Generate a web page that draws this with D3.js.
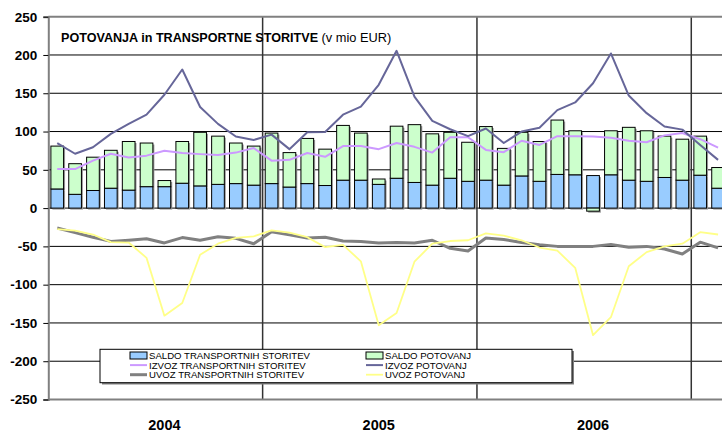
<!DOCTYPE html>
<html>
<head>
<meta charset="utf-8">
<script src="https://cdn.jsdelivr.net/npm/d3@7"></script>
<style>
body { margin: 0; background: #fff; }
svg { display: block; font-family: "Liberation Sans", Arial, sans-serif; }
</style>
</head>
<body>
<svg id="chart" width="722" height="432"></svg>
<script>
var categories = ["jan04","feb04","mar04","apr04","maj04","jun04","jul04","avg04","sep04","okt04","nov04","dec04",
    "jan05","feb05","mar05","apr05","maj05","jun05","jul05","avg05","sep05","okt05","nov05","dec05",
    "jan06","feb06","mar06","apr06","maj06","jun06","jul06","avg06","sep06","okt06","nov06","dec06",
    "jan07","feb07"];
var yearLabels = ["2004", "2005", "2006"];
var yTicks = [-250, -200, -150, -100, -50, 0, 50, 100, 150, 200, 250];

var saldoTransport = [25,18,23,26,23.5,28,28,32.5,29,31,32,30,
    32,27.5,32,29.5,36.5,36.5,31,39,33.5,30,39,35,
    36.5,30,42,35,44,43.5,42.5,43.5,36.5,35,40,36.5,
    43,26];
var saldoPotovanj = [56,40,43.5,49.5,63.5,57,8,54.5,70,63,53,51,
    66,45,59,47.5,71.5,61.5,7,68,75.5,67,60,51,
    70,48,57,52,71,57.5,-4,57.5,69,66,54,53.5,
    51,27];
var izvozTransport = [51,51,62,71,66,68.5,75,72,70.5,69.5,72.5,78.5,
    62,63,72,67,81,81,77,85,80,72.5,92.5,92.5,
    76,73,88,82.5,94,94,93.5,92,88,86,95,98,
    90,79];
var izvozPotovanj = [85,71,79.5,97,110,122,148,181,132,110,93.5,89,
    96,77,99,99.5,122,132.5,161,205.5,145.5,114,103,94,
    104,85,100,105,128,138,163,202,147,124,106.5,102.5,
    82.5,63];
var uvozTransport = [-26,-32,-38,-43.5,-42,-40,-45.5,-38.5,-42,-37.5,-39.5,-46.5,
    -31,-35,-39,-38,-43,-43.5,-45.5,-45,-45.5,-42,-52.5,-56,
    -39,-41,-45,-48,-50,-50,-50,-47.5,-51,-50,-53.5,-60,
    -44.5,-52];
var uvozPotovanj = [-27.5,-29.5,-34.5,-44.5,-45,-65,-140.5,-124,-61,-46.5,-39,-37,
    -29,-32,-38,-51,-48,-69.5,-153,-137,-70,-46.5,-43,-42,
    -33,-36,-42,-51.5,-55.5,-78,-166,-142.5,-76,-57.5,-50,-46.5,
    -31.5,-34.5];

var svg = d3.select("#chart");
var plotLeft = 48.3, plotRight = 727, plotTop = 16.7, plotBottom = 399.5;

var x = d3.scaleBand().domain(categories).range([plotLeft, plotRight]).paddingInner(0.29).paddingOuter(0.145);
var y = d3.scaleLinear().domain([-250, 250]).range([plotBottom, plotTop]);
var step = x.step();

// gridlines
svg.append("g").selectAll("line").data(yTicks.filter(function(d) { return d > -250 && d < 250; }))
    .enter().append("line")
    .attr("x1", plotLeft).attr("x2", 722)
    .attr("y1", function(d) { return y(d); }).attr("y2", function(d) { return y(d); })
    .attr("stroke", "#000").attr("stroke-width", 1);

// year separators
svg.append("g").selectAll("line").data([12, 24, 36]).enter().append("line")
    .attr("x1", function(d) { return plotLeft + d * step; })
    .attr("x2", function(d) { return plotLeft + d * step; })
    .attr("y1", plotTop).attr("y2", plotBottom)
    .attr("stroke", "#333").attr("stroke-width", 1.5);

// plot border
svg.append("line").attr("x1", plotLeft).attr("x2", 722).attr("y1", plotTop).attr("y2", plotTop).attr("stroke", "#808080").attr("stroke-width", 2);
svg.append("line").attr("x1", plotLeft).attr("x2", 722).attr("y1", plotBottom).attr("y2", plotBottom).attr("stroke", "#808080").attr("stroke-width", 2);

// y axis
var yAxis = svg.append("g").attr("transform", "translate(" + plotLeft + ",0)")
    .call(d3.axisLeft(y).tickValues(yTicks).tickSize(5).tickPadding(6).tickFormat(function(d) { return String(d); }));
yAxis.select(".domain").attr("stroke", "#808080").attr("stroke-width", 2);
yAxis.selectAll(".tick line").attr("stroke", "#000");
yAxis.selectAll("text").attr("font-size", "13.5px").attr("font-weight", "bold").attr("fill", "#000")
    .style("font-family", "'Liberation Sans', Arial, sans-serif");

// bars
var bw = x.bandwidth();
var bars = svg.append("g");
categories.forEach(function(c, i) {
    var b = saldoTransport[i], g = saldoPotovanj[i];
    var segs = [];
    segs.push({ y0: 0, y1: b, fill: "#99ccff" });
    if (g >= 0) segs.push({ y0: b, y1: b + g, fill: "#ccffcc" });
    else segs.push({ y0: g, y1: 0, fill: "#ccffcc" });
    segs.forEach(function(s) {
        bars.append("rect").attr("x", x(c) + 1.5).attr("y", y(s.y1) + 1.5)
            .attr("width", bw).attr("height", y(s.y0) - y(s.y1))
            .attr("fill", "#9a9a9a");
    });
    segs.forEach(function(s) {
        bars.append("rect").attr("x", x(c)).attr("y", y(s.y1))
            .attr("width", bw).attr("height", y(s.y0) - y(s.y1))
            .attr("fill", s.fill).attr("stroke", "#000").attr("stroke-width", 1);
    });
});

// lines
var line = d3.line()
    .x(function(d, i) { return x(categories[i]) + bw / 2; })
    .y(function(d) { return y(d); });
var series = [
    { data: uvozTransport, color: "#808080", w: 3 },
    { data: uvozPotovanj, color: "#ffff88", w: 1.8 },
    { data: izvozTransport, color: "#cc99ff", w: 2 },
    { data: izvozPotovanj, color: "#666699", w: 2 }
];
series.forEach(function(s) {
    svg.append("path").attr("d", line(s.data)).attr("fill", "none")
        .attr("stroke", s.color).attr("stroke-width", s.w).attr("stroke-linejoin", "round");
});

// year labels, centred on July
svg.append("g").selectAll("text").data(yearLabels).enter().append("text")
    .attr("x", function(d, i) { return x(categories[i * 12 + 6]) + bw / 2; })
    .attr("y", 430).attr("text-anchor", "middle")
    .attr("font-size", "14.5px").attr("font-weight", "bold")
    .text(function(d) { return d; });

// title
svg.append("text").attr("x", 61).attr("y", 42).attr("font-size", "12.6px").attr("font-weight", "bold")
    .text("POTOVANJA in TRANSPORTNE STORITVE");
svg.append("text").attr("x", 321.5).attr("y", 42).attr("font-size", "12.8px")
    .text("(v mio EUR)");

// legend
var legend = svg.append("g");
legend.append("rect").attr("x", 102).attr("y", 351).attr("width", 472).attr("height", 33.5).attr("fill", "#808080");
legend.append("rect").attr("x", 100).attr("y", 349.3).attr("width", 472).attr("height", 33.4)
    .attr("fill", "#fff").attr("stroke", "#000").attr("stroke-width", 1);
var legendItems = [
    { name: "SALDO TRANSPORTNIH STORITEV", type: "bar", color: "#99ccff", col: 0, row: 0 },
    { name: "IZVOZ TRANSPORTNIH STORITEV", type: "line", color: "#cc99ff", w: 2, col: 0, row: 1 },
    { name: "UVOZ TRANSPORTNIH STORITEV", type: "line", color: "#808080", w: 3, col: 0, row: 2 },
    { name: "SALDO POTOVANJ", type: "bar", color: "#ccffcc", col: 1, row: 0 },
    { name: "IZVOZ POTOVANJ", type: "line", color: "#666699", w: 2, col: 1, row: 1 },
    { name: "UVOZ POTOVANJ", type: "line", color: "#ffff88", w: 1.8, col: 1, row: 2 }
];
var colX = [130, 366];
legendItems.forEach(function(d) {
    var lx = colX[d.col], ly = 355.5 + d.row * 9.6;
    if (d.type === "bar") {
        legend.append("rect").attr("x", lx).attr("y", ly - 3.5).attr("width", 17).attr("height", 7)
            .attr("fill", d.color).attr("stroke", "#000").attr("stroke-width", 1);
    } else {
        legend.append("line").attr("x1", lx).attr("x2", lx + 17).attr("y1", ly).attr("y2", ly)
            .attr("stroke", d.color).attr("stroke-width", d.w);
    }
    legend.append("text").attr("x", lx + 19).attr("y", ly + 3.5).attr("font-size", "9.6px")
        .text(d.name);
});
</script>
</body>
</html>
